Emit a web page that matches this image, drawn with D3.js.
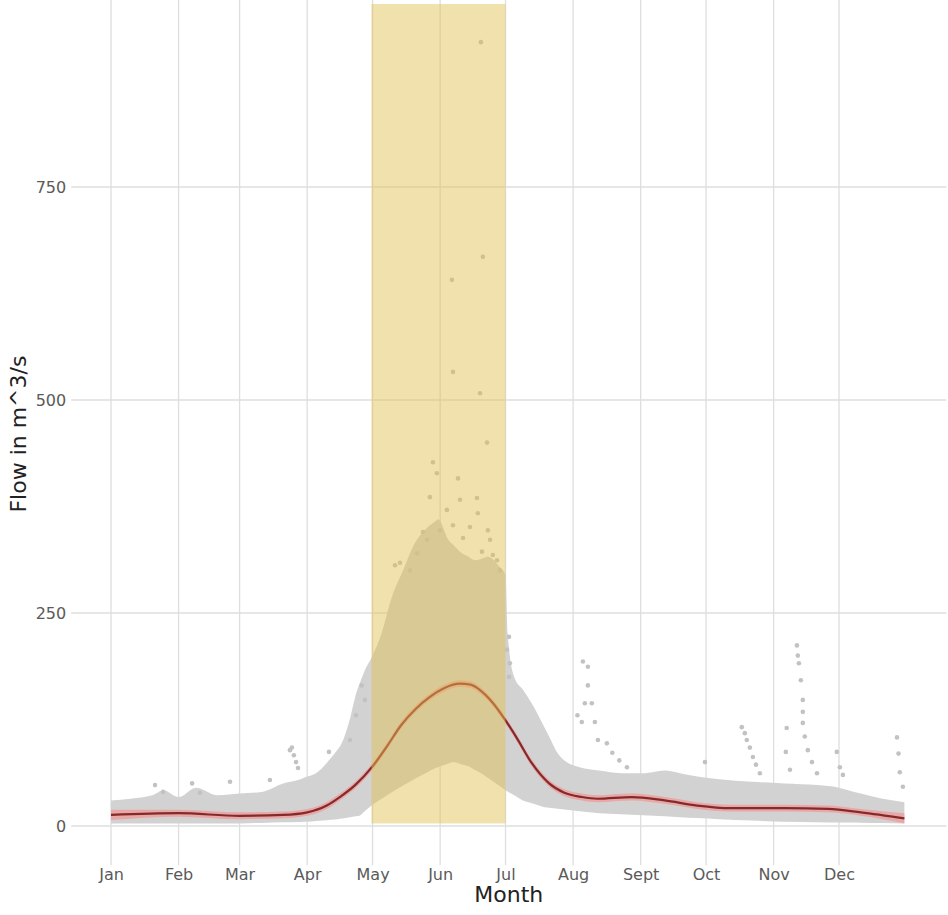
<!DOCTYPE html>
<html>
<head>
<meta charset="utf-8">
<script src="https://cdn.jsdelivr.net/npm/d3@7"></script>
<style>
  html, body { margin: 0; padding: 0; background: #ffffff; }
  svg { display: block; }
</style>
</head>
<body>
<svg id="chart" width="948" height="915"></svg>
<script>
// ---------------- DATA ----------------
const monthLabels = ["Jan","Feb","Mar","Apr","May","Jun","Jul","Aug","Sept","Oct","Nov","Dec"];
const monthStartDays = [1,32,60,91,121,152,182,213,244,274,305,335];
const yTicks = [0,250,500,750];

// dense cloud of daily flows: envelope per day-of-year
const bandDays = [1,10,20,25,32,40,50,60,70,80,88,95,102,106,110,114,117,121,125,130,135,140,146,151,156,162,168,174,179,182,183,186,190,194,198,202,206,210,216,225,235,245,255,262,270,280,295,310,325,335,345,355,365];
const bandHigh = [30,32,36,42,34,45,36,38,40,50,55,62,80,93,120,160,180,200,225,270,300,330,350,360,335,320,312,316,305,295,226,175,160,144,125,105,85,75,69,65,62,62,65,62,58,55,52,50,48,45,38,32,28];
const bandLowDays = [1,60,91,105,115,121,130,140,150,158,165,172,182,190,200,210,225,250,280,310,340,365];
const bandLow     = [3,3,5,8,12,25,40,55,68,75,70,60,42,30,22,19,15,12,8,5,4,3];

// individual sparse observations (day-of-year, flow)
const pointDays = [
  170.7,171.6,157.4,157.9,170.3,173.5,148.7,150.5,160.2,147.3,161.1,168.9,169.3,157.9,173.9,162.5,144.1,171.2,176.2,131.3,179.4,
  133.6,138.2,141.4,146,151.9,155.1,165.7,174.9,178.1,
  183.6,182.7,184,183.6,
  217.5,219.8,219.8,218.4,221.6,217,223,224.4,228.5,231,234.2,237.7,215,
  83.1,84,84.9,85.9,86.8,101,116,117.5,110.6,113.4,
  21.2,24.9,38.2,41.8,55.6,73.9,
  273.5,290.4,291.8,292.7,294.1,295.5,296.9,298.7,
  315.7,316.1,316.6,317.5,318.4,318.4,318.4,319.3,320.7,322.6,324.9,311,310.6,312.5,
  334,335.4,336.8,361.6,362.3,362.9,364.3];
const pointFlows = [
  920,668,641,533,508,450,427,414,408,386,383,385,367,353,347,338,345,322,318,306,300,
  309,300,320,336,347,371,351,336,312,
  222,207,191,175,
  193,187,165,144,144,122,122,101,97,86,77,69,130,
  89,92,83,75,68,87,165,148,101,130,
  48,40,50,39,52,54,
  75,116,109,101,92,81,72,62,
  212,200,191,171,148,134,121,105,89,75,62,115,87,66,
  87,69,60,104,85,63,46];

// smoothed (loess) fit with confidence half-width
const smoothDays = [1,32,60,80,91,100,106,113,121,128,134,141,147,154,161,166,170,176,182,187,194,202,209,217,224,240,255,270,285,310,330,345,365];
const smoothFlow = [13,15,12,13,16,24,34,48,70,95,118,138,151,162,167,166,160,145,124,104,74,50,39,34,32,34,30,24,21,21,20,16,9];
const smoothHalfWidth = [6,4,4,4,4,4,4,4,4,4,4,4,4,4,4,4,4,4,4,4,4,4,4,4,4,4,4,4,4,4,4,4,6];

// highlighted season (May–June)
const highlightStart = 120.5, highlightEnd = 182, highlightLow = 3;

// ---------------- CHART ----------------
const svg = d3.select("#chart");
const x = d3.scaleLinear().domain([1, 335]).range([111, 839]);
const y = d3.scaleLinear().domain([0, 750]).range([826, 187]);
const panelLeft = x(1 - 18.25), panelRight = x(366 + 18.25);
const panelTop = y(966), panelBottom = y(-46);
const font = "'DejaVu Sans', sans-serif";

// grid
const grid = svg.append("g");
grid.selectAll("line.h").data(yTicks).join("line")
  .attr("x1", panelLeft).attr("x2", panelRight)
  .attr("y1", d => y(d)).attr("y2", d => y(d))
  .attr("stroke", "#dedede").attr("stroke-width", 1.3);
grid.selectAll("line.v").data(monthStartDays).join("line")
  .attr("x1", d => x(d)).attr("x2", d => x(d))
  .attr("y1", panelTop - 3).attr("y2", panelBottom)
  .attr("stroke", "#dedede").attr("stroke-width", 1.3);

// dense cloud
const hiF = d3.scaleLinear().domain(bandDays).range(bandHigh);
const loF = d3.scaleLinear().domain(bandLowDays).range(bandLow);
const allDays = Array.from(new Set(bandDays.concat(bandLowDays))).sort((a,b)=>a-b);
svg.append("path")
  .datum(allDays)
  .attr("fill", "#d2d2d2")
  .attr("d", d3.area()
    .x(d => x(d))
    .y0(d => y(loF(d)))
    .y1(d => y(hiF(d)))
    .curve(d3.curveMonotoneX));

// sparse points
svg.append("g").selectAll("circle")
  .data(d3.range(pointDays.length))
  .join("circle")
  .attr("cx", i => x(pointDays[i]))
  .attr("cy", i => y(pointFlows[i]))
  .attr("r", 2.3)
  .attr("fill", "#c2c2c2");

// smooth ribbon + line
const idx = d3.range(smoothDays.length);
svg.append("path").datum(idx)
  .attr("fill", "#f09a9a").attr("opacity", 0.75)
  .attr("d", d3.area()
    .x(i => x(smoothDays[i]))
    .y0(i => y(smoothFlow[i] - smoothHalfWidth[i]))
    .y1(i => y(smoothFlow[i] + smoothHalfWidth[i]))
    .curve(d3.curveMonotoneX));
svg.append("path").datum(idx)
  .attr("fill", "none").attr("stroke", "#852a2a").attr("stroke-width", 2.2)
  .attr("d", d3.line()
    .x(i => x(smoothDays[i]))
    .y(i => y(smoothFlow[i]))
    .curve(d3.curveMonotoneX));

// highlight rectangle (on top)
svg.append("rect")
  .attr("x", x(highlightStart))
  .attr("width", x(highlightEnd) - x(highlightStart))
  .attr("y", panelTop + 1)
  .attr("height", y(highlightLow) - panelTop - 1)
  .attr("fill", "#e2c250").attr("opacity", 0.47);

// axes
const yAxis = svg.append("g")
  .attr("transform", `translate(${panelLeft - 1},0)`)
  .call(d3.axisLeft(y).tickValues(yTicks).tickSize(0).tickPadding(4));
yAxis.select(".domain").remove();
yAxis.selectAll("text").attr("font-family", font).attr("font-size", 16).attr("fill", "#5a5a5a");

const xAxis = svg.append("g")
  .attr("transform", `translate(0,${panelBottom})`)
  .call(d3.axisBottom(x).tickValues(monthStartDays).tickFormat((d,i) => monthLabels[i]).tickSize(0).tickPadding(3));
xAxis.select(".domain").remove();
xAxis.selectAll("text").attr("font-family", font).attr("font-size", 16).attr("fill", "#5a5a5a");

// titles
svg.append("text")
  .attr("x", (panelLeft + panelRight) / 2).attr("y", 902)
  .attr("text-anchor", "middle")
  .attr("font-family", font).attr("font-size", 22).attr("fill", "#222")
  .text("Month");
svg.append("text")
  .attr("transform", `translate(26,${(panelTop + panelBottom) / 2}) rotate(-90)`)
  .attr("text-anchor", "middle")
  .attr("font-family", font).attr("font-size", 22).attr("fill", "#222")
  .text("Flow in m^3/s");
</script>
</body>
</html>
